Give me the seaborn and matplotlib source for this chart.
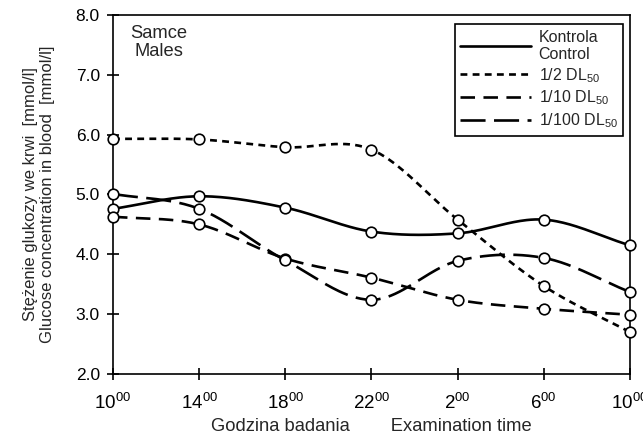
import numpy as np
import pandas as pd
import matplotlib
matplotlib.use("Agg")
import matplotlib.pyplot as plt
from matplotlib.lines import Line2D
import seaborn as sns

# Examination times (clock hours) and blood glucose means [mmol/l]
hours = ["10", "14", "18", "22", "2", "6", "10"]
control = [4.76, 4.97, 4.78, 4.38, 4.35, 4.58, 4.15]
half_dl50 = [5.93, 5.92, 5.79, 5.75, 4.58, 3.47, 2.70]
tenth_dl50 = [4.63, 4.50, 3.93, 3.61, 3.24, 3.09, 2.99]
hundredth_dl50 = [5.01, 4.76, 3.90, 3.24, 3.89, 3.94, 3.37]

series_names = ["Kontrola\nControl", "1/2 DL$_{50}$", "1/10 DL$_{50}$", "1/100 DL$_{50}$"]
series_values = [control, half_dl50, tenth_dl50, hundredth_dl50]
dash_styles = ["-", (0, (2.6, 2.0)), (0, (5.5, 3.2)), (0, (9.5, 3.2))]

sns.set_style("ticks")
plt.rcParams["font.family"] = ["Liberation Sans", "DejaVu Sans"]
plt.rcParams["mathtext.fontset"] = "custom"
plt.rcParams["mathtext.rm"] = "Liberation Sans"
plt.rcParams["mathtext.it"] = "Liberation Sans"
plt.rcParams["mathtext.default"] = "rm"

fig = plt.figure(figsize=(6.43, 4.40), dpi=100)
ax = fig.add_axes([0.1757, 0.15, 0.804, 0.816])

x = np.arange(len(hours))


def catmull_rom(xs, ys, n=40):
    """Smooth curve through the points (uniform Catmull-Rom)."""
    xs = np.asarray(xs, float)
    ys = np.asarray(ys, float)
    px = np.concatenate([[2 * xs[0] - xs[1]], xs, [2 * xs[-1] - xs[-2]]])
    py = np.concatenate([[2 * ys[0] - ys[1]], ys, [2 * ys[-1] - ys[-2]]])
    out_x, out_y = [], []
    t = np.linspace(0, 1, n, endpoint=False)
    for i in range(1, len(px) - 2):
        for arr, out in ((px, out_x), (py, out_y)):
            p0, p1, p2, p3 = arr[i - 1], arr[i], arr[i + 1], arr[i + 2]
            seg = 0.5 * ((2 * p1) + (-p0 + p2) * t
                         + (2 * p0 - 5 * p1 + 4 * p2 - p3) * t ** 2
                         + (-p0 + 3 * p1 - 3 * p2 + p3) * t ** 3)
            out.extend(seg)
    out_x.append(xs[-1])
    out_y.append(ys[-1])
    return np.array(out_x), np.array(out_y)


for name, vals, ls in zip(series_names, series_values, dash_styles):
    cx, cy = catmull_rom(x, vals)
    ax.plot(cx, cy, color="black", lw=1.9, linestyle=ls, zorder=2,
            solid_capstyle="butt", dash_capstyle="butt")

points = pd.DataFrame({
    "pos": np.tile(x, len(series_values)),
    "glucose": np.concatenate(series_values),
})
sns.scatterplot(data=points, x="pos", y="glucose", ax=ax, s=58,
                facecolor="white", edgecolor="black", linewidth=1.2,
                zorder=3, clip_on=False, legend=False)

ax.set_xlim(0, 6)
ax.set_ylim(2.0, 8.0)
ax.set_yticks(np.arange(2.0, 8.01, 1.0))
ax.set_yticklabels([f"{v:.1f}" for v in np.arange(2.0, 8.01, 1.0)], fontsize=12.5)
ax.set_xticks(x)
ax.set_xticklabels([f"${h}^{{00}}$" for h in hours], fontsize=13.5)

for side in ["top", "right", "left", "bottom"]:
    ax.spines[side].set_visible(True)
    ax.spines[side].set_linewidth(1.2)
    ax.spines[side].set_color("black")
ax.tick_params(axis="both", direction="inout", length=9, width=1.2,
               color="black", labelcolor="black")
ax.tick_params(axis="y", pad=5)
ax.tick_params(axis="x", pad=9)

ax.set_xlabel("Godzina badania        Examination time", fontsize=13.2, labelpad=4)
ax.set_ylabel("Stężenie glukozy we krwi  [mmol/l]\nGlucose concentration in blood  [mmol/l]",
              fontsize=12, labelpad=15, linespacing=1.12)

ax.text(0.089, 0.972, "Samce\nMales", transform=ax.transAxes, ha="center",
        va="top", fontsize=13.2, linespacing=1.1)

handles = [Line2D([0], [0], color="black", lw=1.9, linestyle=ls,
                  dash_capstyle="butt") for ls in dash_styles]
leg = ax.legend(handles, series_names, loc="upper right",
                bbox_to_anchor=(0.987, 0.975), frameon=True, fancybox=False,
                fontsize=11.5, handlelength=4.4, handletextpad=0.5,
                labelspacing=0.25, borderpad=0.35, borderaxespad=0)
leg.get_frame().set_edgecolor("black")
leg.get_frame().set_linewidth(1.2)
leg.get_frame().set_alpha(1)

fig.savefig("out.png", dpi=100)
